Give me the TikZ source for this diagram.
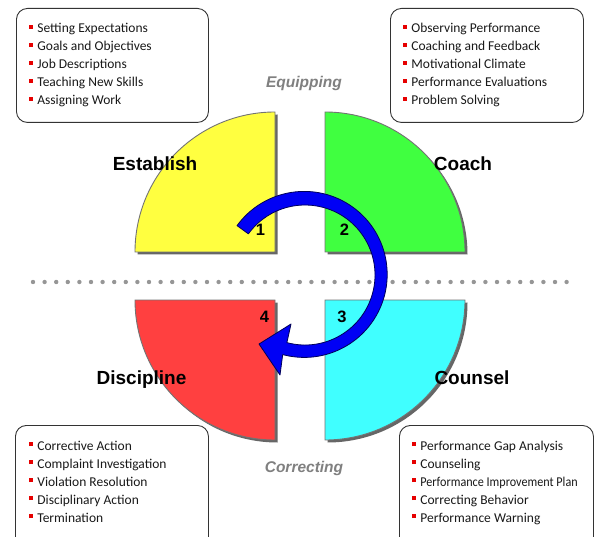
\documentclass[tikz,border=0pt]{standalone}
\usepackage{fontspec}
\setmainfont{Carlito}
\newfontfamily\arialfont{Liberation Sans}

\definecolor{quadyellow}{RGB}{255,255,64}
\definecolor{quadgreen}{RGB}{64,255,64}
\definecolor{quadcyan}{RGB}{64,255,255}
\definecolor{quadred}{RGB}{255,64,64}
\definecolor{bulletred}{RGB}{230,0,0}
\definecolor{stagegray}{RGB}{128,128,128}
\definecolor{dotgray}{RGB}{150,150,150}
\definecolor{arrowblue}{RGB}{0,0,245}

\newcommand{\bul}{\textcolor{bulletred}{\rule[4pt]{3.5pt}{4pt}}\hspace{4.5pt}}

\tikzset{every picture/.style={line width=0.75pt}}
\tikzset{
  listbox/.style={draw=black!80, line width=0.9pt, rounded corners=11pt, fill=white, anchor=north west, inner sep=0pt},
  listitem/.style={anchor=base west, inner sep=0pt, font=\fontsize{13.5}{16}\selectfont, text=black!90},
  phase/.style={anchor=base, inner sep=0pt, font=\arialfont\bfseries\fontsize{19}{22}\selectfont},
  stepnum/.style={anchor=base, inner sep=0pt, font=\arialfont\bfseries\fontsize{16.5}{20}\selectfont},
  stage/.style={anchor=base, inner sep=0pt, text=stagegray, font=\arialfont\bfseries\itshape\fontsize{15.5}{18}\selectfont},
  quadline/.style={draw=black!55, line width=0.9pt},
}

\begin{document}
\begin{tikzpicture}[x=1pt,y=1pt,yscale=-1]
\clip (0,0) rectangle (594,537);
\fill[white] (0,0) rectangle (594,537);

\foreach \i in {0,...,46}
  \fill[dotgray] (33+\i*11.6,282) circle (2.2);

\foreach \cx/\cy/\a/\col in {275/252/180/quadyellow, 325/252/270/quadgreen, 325/300/0/quadcyan, 275/300/90/quadred} {
  \fill[black!60] (\cx+2.5,\cy+2.5) -- ++(\a:140) arc (\a:\a+90:140) -- cycle;
  \draw[quadline, fill=\col] (\cx,\cy) -- ++(\a:140) arc (\a:\a+90:140) -- cycle;
}

\node[listbox, minimum width=192, minimum height=114] (estbox) at (16,8) {};
\node[listbox, minimum width=193, minimum height=114] (coabox) at (390,8) {};
\node[listbox, minimum width=193, minimum height=125] (disbox) at (15,425) {};
\node[listbox, minimum width=194, minimum height=125] (coubox) at (399,425) {};

\foreach \t [count=\i] in {Setting Expectations, Goals and Objectives, Job Descriptions, Teaching New Skills, Assigning Work}
  \node[listitem] (est-\i) at (29,15+18*\i) {\bul\t};
\foreach \t [count=\i] in {Observing Performance, Coaching and Feedback, Motivational Climate, Performance Evaluations, Problem Solving}
  \node[listitem] (coa-\i) at (403,15+18*\i) {\bul\t};
\foreach \t [count=\i] in {Corrective Action, Complaint Investigation, Violation Resolution, Disciplinary Action, Termination}
  \node[listitem] (dis-\i) at (29,432+18*\i) {\bul\t};
\foreach \t [count=\i] in {Performance Gap Analysis, Counseling, {\scalebox{0.9}[1]{Performance Improvement Plan}}, Correcting Behavior, Performance Warning}
  \node[listitem] (cou-\i) at (412,432+18*\i) {\bul\t};

\node[stage] (equipping) at (304,88) {Equipping};
\node[stage] (correcting) at (304,472) {Correcting};

\node[phase] (establish) at (155,171) {Establish};
\node[phase] (coach) at (463,171) {Coach};
\node[phase] (discipline) at (141.5,384) {Discipline};
\node[phase] (counsel) at (472,384) {Counsel};

\begin{scope}[shift={(305,275)}]
\draw[fill=arrowblue, draw=blue!35!black, line width=0.8pt, line join=round]
  (216:84) arc (216:465:83) -- (-25,100) -- (-46,69) -- (-14,49) -- (465:70) arc (465:216:70) -- cycle;
\end{scope}

\node[stepnum] (n1) at (260.5,236) {1};
\node[stepnum] (n2) at (344.5,236) {2};
\node[stepnum] (n3) at (342,322) {3};
\node[stepnum] (n4) at (264.5,322) {4};
\end{tikzpicture}
\end{document}
